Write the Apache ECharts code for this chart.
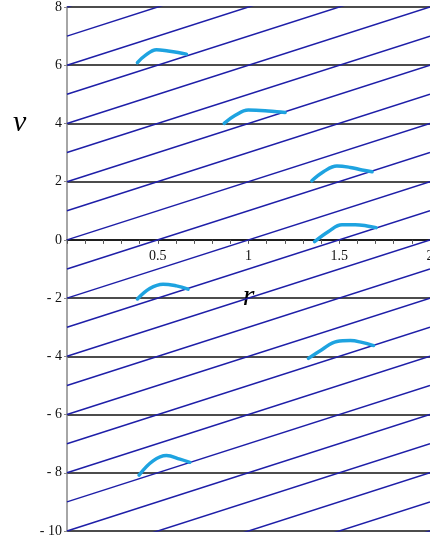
<!DOCTYPE html>
<html>
<head>
<meta charset="utf-8">
<script src="https://cdn.jsdelivr.net/npm/echarts@6/dist/echarts.min.js"></script>
<style>
  html, body { margin: 0; padding: 0; background: #fff; }
  #chart { width: 430px; height: 541px; }
</style>
</head>
<body>
<div id="chart"></div>
<script>
// diagonal (blue) lines: value of v at r = 0 and at r = 2
const lineStartV = [-14, -13, -12, -11, -10, -9, -8, -7, -6, -5, -4, -3, -2, -1, 0, 1, 2, 3, 4, 5, 6, 7, 8];
const lineEndV = [-10, -9, -8, -7, -6, -5, -4, -3, -2, -1, 0, 1, 2, 3, 4, 5, 6, 7, 8, 9, 10, 11, 12];
const lineR = [0, 2];

// cyan arcs, [r, v]
const arc1 = [[0.388, 6.09], [0.428, 6.32], [0.493, 6.53], [0.557, 6.49], [0.612, 6.44], [0.658, 6.38]];
const arc2 = [[0.866, 4.0], [0.925, 4.27], [0.999, 4.46], [1.091, 4.44], [1.156, 4.40], [1.202, 4.38]];
const arc3 = [[1.349, 2.03], [1.413, 2.34], [1.487, 2.54], [1.561, 2.49], [1.625, 2.40], [1.681, 2.34]];
const arc4 = [[1.364, -0.06], [1.441, 0.29], [1.515, 0.52], [1.588, 0.52], [1.653, 0.48], [1.703, 0.42]];
const arc5 = [[0.388, -2.03], [0.456, -1.67], [0.529, -1.52], [0.603, -1.58], [0.667, -1.69]];
const arc6 = [[1.330, -4.07], [1.404, -3.77], [1.487, -3.49], [1.561, -3.46], [1.625, -3.52], [1.689, -3.63]];
const arc7 = [[0.397, -8.08], [0.474, -7.59], [0.548, -7.41], [0.622, -7.53], [0.677, -7.64]];
const arcs = [arc1, arc2, arc3, arc4, arc5, arc6, arc7];

const FONT = 'Liberation Serif, DejaVu Serif, serif';

const GRID_TOP = 7;
const GRID_BOTTOM = 10;
const CHART_H = 541;

const chart = echarts.init(document.getElementById('chart'), null, { renderer: 'canvas' });

// x axis sits on v = 0; shift it up from the grid bottom
const plotH = CHART_H - GRID_TOP - GRID_BOTTOM;
const zeroOffset = -plotH * (0 - (-10)) / (8 - (-10));

const series = [];
lineStartV.forEach((v0, i) => {
  series.push({
    type: 'line',
    data: [[lineR[0], v0], [lineR[1], lineEndV[i]]],
    symbol: 'none',
    silent: true,
    clip: true,
    lineStyle: { color: '#1e1ea8', width: 1.5 },
    z: 3,
  });
});
arcs.forEach((a) => {
  series.push({
    type: 'line',
    data: a,
    symbol: 'none',
    smooth: 0.4,
    silent: true,
    lineStyle: { color: '#1ea3e0', width: 3.5, cap: 'round' },
    z: 5,
  });
});

chart.setOption({
  animation: false,
  grid: {
    left: 67, right: 0, top: GRID_TOP, bottom: GRID_BOTTOM,
    containLabel: false, outerBoundsMode: 'none',
  },
  xAxis: {
    type: 'value',
    min: 0,
    max: 2,
    interval: 0.5,
    offset: zeroOffset,
    name: 'r',
    nameLocation: 'middle',
    nameGap: 42,
    nameTextStyle: { fontFamily: FONT, fontStyle: 'italic', fontSize: 30, color: '#000' },
    axisLine: { show: true, onZero: false, lineStyle: { color: '#111', width: 1.5 } },
    axisTick: { show: true, length: 4, lineStyle: { color: '#555' } },
    minorTick: { show: true, splitNumber: 5, length: 4, lineStyle: { color: '#555' } },
    splitLine: { show: false },
    axisLabel: {
      fontFamily: FONT,
      fontSize: 14,
      color: '#111',
      margin: 9,
      formatter: (v) => (v === 0 ? '' : String(v)),
    },
  },
  yAxis: {
    type: 'value',
    min: -10,
    max: 8,
    interval: 2,
    axisLine: { show: true, onZero: false, lineStyle: { color: '#888', width: 1.5 } },
    axisTick: { show: true, length: 3, lineStyle: { color: '#888' } },
    splitLine: { show: true, lineStyle: { color: '#111', width: 1.5 } },
    axisLabel: {
      fontFamily: FONT,
      fontSize: 14,
      color: '#111',
      margin: 5,
      formatter: (v) => (v < 0 ? '- ' + Math.abs(v) : String(v)),
    },
  },
  graphic: [
    {
      type: 'text',
      left: 13,
      top: 108,
      style: { text: 'v', fontFamily: FONT, fontStyle: 'italic', fontSize: 30, fill: '#000' },
    },
  ],
  series: series,
});
</script>
</body>
</html>
